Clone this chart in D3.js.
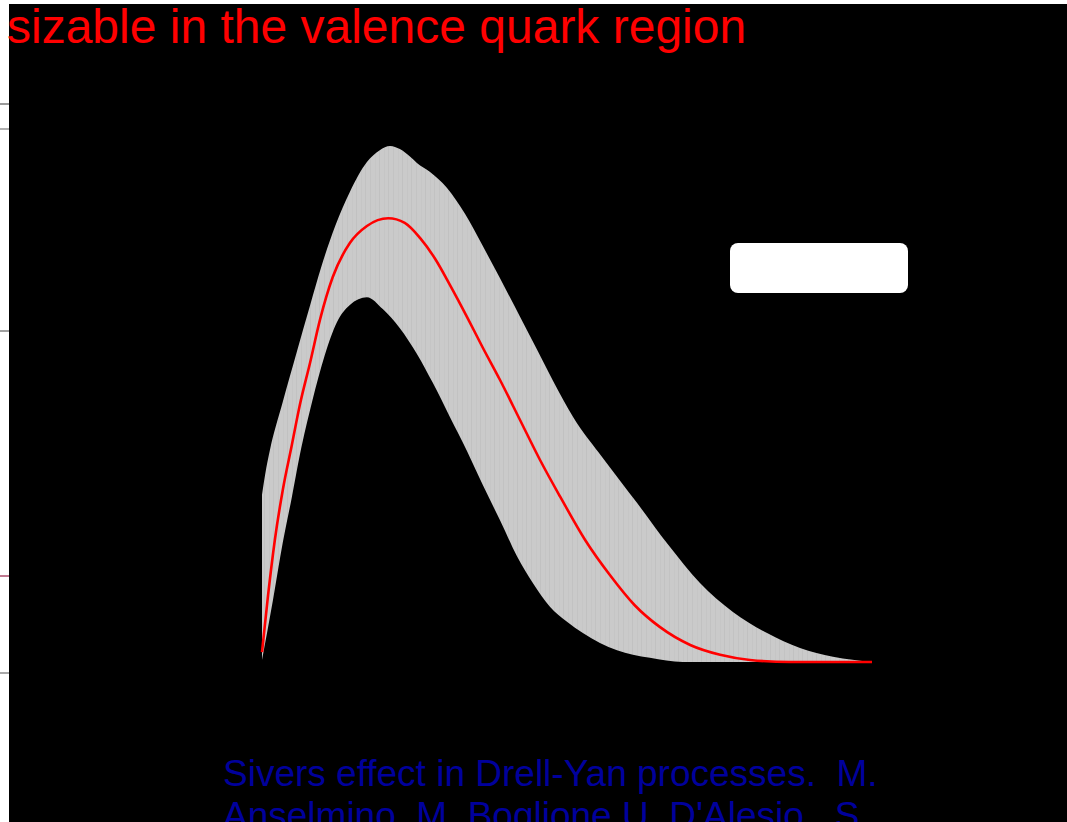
<!DOCTYPE html>
<html>
<head>
<meta charset="utf-8">
<script src="https://cdn.jsdelivr.net/npm/d3@7/dist/d3.min.js"></script>
<style>
  html, body { margin: 0; padding: 0; background: #ffffff; overflow: hidden; }
  svg { display: block; }
  text { white-space: pre; }
</style>
</head>
<body>
<svg id="chart" width="1067" height="822"></svg>
<script>
// Sivers function x*f_1T(1)(x): central fit and error band (arbitrary units)
const centralX = [0, 0.010, 0.021, 0.034, 0.049, 0.062, 0.079, 0.095, 0.116, 0.144, 0.172, 0.207, 0.234, 0.259, 0.284, 0.308, 0.336, 0.362, 0.390, 0.423, 0.456, 0.489, 0.530, 0.570, 0.611, 0.652, 0.702, 0.751, 0.800, 0.866, 1.0];
const centralY = [0.019, 0.130, 0.236, 0.333, 0.421, 0.498, 0.581, 0.663, 0.746, 0.812, 0.845, 0.860, 0.851, 0.822, 0.781, 0.731, 0.669, 0.609, 0.547, 0.469, 0.391, 0.320, 0.236, 0.169, 0.110, 0.068, 0.033, 0.014, 0.004, 0.0, 0.0];

const upperX = [0, 0.007, 0.013, 0.034, 0.057, 0.079, 0.098, 0.120, 0.144, 0.172, 0.193, 0.210, 0.226, 0.243, 0.254, 0.275, 0.303, 0.333, 0.362, 0.390, 0.423, 0.451, 0.477, 0.510, 0.559, 0.615, 0.666, 0.718, 0.772, 0.828, 0.882, 0.936, 1.0];
const upperY = [0.324, 0.376, 0.411, 0.504, 0.601, 0.692, 0.769, 0.845, 0.911, 0.969, 0.992, 1.000, 0.994, 0.979, 0.967, 0.950, 0.919, 0.868, 0.806, 0.744, 0.669, 0.605, 0.545, 0.475, 0.395, 0.308, 0.227, 0.153, 0.097, 0.056, 0.027, 0.010, 0.0];

const lowerX = [0, 0.018, 0.034, 0.049, 0.062, 0.082, 0.103, 0.123, 0.144, 0.172, 0.198, 0.226, 0.254, 0.280, 0.308, 0.336, 0.362, 0.390, 0.418, 0.444, 0.472, 0.500, 0.526, 0.554, 0.582, 0.608, 0.636, 0.690, 1.0];
const lowerY = [0.004, 0.120, 0.231, 0.320, 0.401, 0.504, 0.595, 0.659, 0.692, 0.707, 0.684, 0.647, 0.597, 0.541, 0.475, 0.409, 0.343, 0.275, 0.205, 0.153, 0.107, 0.078, 0.056, 0.037, 0.023, 0.014, 0.008, 0.0, 0.0];

const titleText = "sizable in the valence quark region";
const captionLines = [
  "Sivers effect in Drell-Yan processes.  M.",
  "Anselmino, M. Boglione U. D'Alesio , S."
];

const svg = d3.select("#chart");

// slivers of the slide underneath, visible at the left margin
[[103, "#9a9a9a"], [128, "#b0b0b0"], [330, "#a0a0a0"], [575, "#c07890"], [672, "#a8a8a8"]].forEach(([yy, c]) => {
  svg.append("rect").attr("x", 0).attr("y", yy).attr("width", 9).attr("height", 2).attr("fill", c);
});

// dark slide panel
svg.append("rect")
  .attr("x", 9).attr("y", 4)
  .attr("width", 1058).attr("height", 818)
  .attr("fill", "#000000");

const x = d3.scaleLinear().domain([0, 1]).range([262, 872]);
const y = d3.scaleLinear().domain([0, 1]).range([662, 146]);

const zip = (xs, ys) => xs.map((v, i) => [v, ys[i]]);
const central = zip(centralX, centralY);
const upper = zip(upperX, upperY);
const lower = zip(lowerX, lowerY);

const line = d3.line()
  .x(d => x(d[0]))
  .y(d => y(d[1]))
  .curve(d3.curveMonotoneX);

// error band: upper edge forward, lower edge back
const upperPath = line(upper);
const lowerPath = line(lower.slice().reverse()).replace(/^M/, "L");

const defs = svg.append("defs");
const pat = defs.append("pattern")
  .attr("id", "bandTexture")
  .attr("patternUnits", "userSpaceOnUse")
  .attr("width", 23).attr("height", 10);
pat.append("rect").attr("width", 23).attr("height", 10).attr("fill", "#cacaca");
[[2, "#c3c3c3"], [7, "#c6c6c6"], [11, "#c1c1c1"], [16, "#c5c5c5"], [20, "#c2c2c2"]].forEach(([px, c]) => {
  pat.append("rect").attr("x", px).attr("y", 0).attr("width", 1).attr("height", 10).attr("fill", c);
});

svg.append("path")
  .attr("d", upperPath + lowerPath + "Z")
  .attr("fill", "url(#bandTexture)")
  .attr("stroke", "none");

svg.append("path")
  .attr("d", line(central))
  .attr("fill", "none")
  .attr("stroke", "#ff0000")
  .attr("stroke-width", 2.6);

// empty legend box
svg.append("rect")
  .attr("x", 730).attr("y", 243)
  .attr("width", 178).attr("height", 50)
  .attr("rx", 8).attr("ry", 8)
  .attr("fill", "#ffffff");

svg.append("text")
  .attr("x", 7).attr("y", 43)
  .attr("font-family", "Liberation Sans, Arial, sans-serif")
  .attr("font-size", 48)
  .attr("fill", "#ff0000")
  .text(titleText);

svg.selectAll("text.caption")
  .data(captionLines)
  .join("text")
  .attr("class", "caption")
  .attr("x", 223)
  .attr("y", (d, i) => 786 + i * 42)
  .attr("font-family", "Liberation Sans, Arial, sans-serif")
  .attr("font-size", 37)
  .attr("fill", "#00009c")
  .text(d => d);
</script>
</body>
</html>
